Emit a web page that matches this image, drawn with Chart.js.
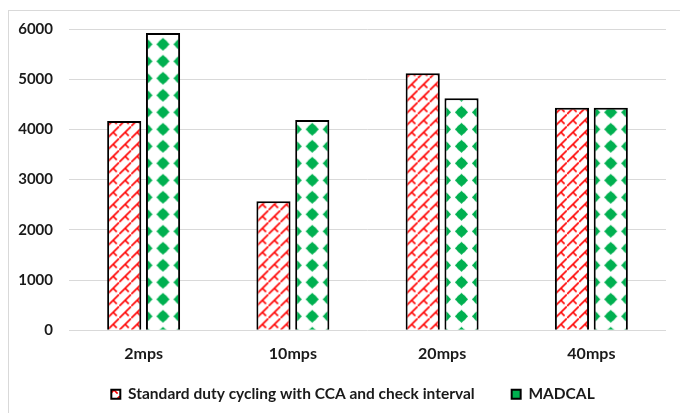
<!DOCTYPE html>
<html>
<head>
<meta charset="utf-8">
<script src="https://cdn.jsdelivr.net/npm/chart.js@4.4.0/dist/chart.umd.min.js"></script>
<style>
  html,body{margin:0;padding:0;background:#fff;width:680px;height:413px;overflow:hidden;}
  #frame{position:absolute;left:8px;top:10px;width:720px;height:440px;border:1px solid #d9d9d9;box-sizing:border-box;}
  canvas{position:absolute;left:0;top:0;}
</style>
</head>
<body>
<div id="frame"></div>
<canvas id="c" width="680" height="413"></canvas>
<script>
const categories = ['2mps', '10mps', '20mps', '40mps'];
const seriesNames = ['Standard duty cycling with CCA and check interval', 'MADCAL'];
const standardValues = [4170, 2570, 5120, 4430];
const madcalValues = [5920, 4190, 4620, 4430];
const yTicks = [0, 1000, 2000, 3000, 4000, 5000, 6000];

const CAT_PCT = 0.52;
const BAR_PCT = 0.88;
const LEGEND_SHIFT_Y = -28;
const LEGEND_SHIFT_X = 20;

function makeBrickTile() {
  const s = 12;
  const c = document.createElement('canvas');
  c.width = s; c.height = s;
  const g = c.getContext('2d');
  g.fillStyle = '#fff'; g.fillRect(0, 0, s, s);
  g.strokeStyle = '#ff0000'; g.lineWidth = 1.6;
  g.beginPath();
  g.moveTo(-1, s + 1); g.lineTo(s + 1, -1);
  g.moveTo(s/2, s/2); g.lineTo(s/2 + 3.6, s/2 + 3.6);
  g.stroke();
  return c;
}
function makeDiamondTile() {
  const s = 17;
  const c = document.createElement('canvas');
  c.width = s; c.height = s;
  const g = c.getContext('2d');
  g.fillStyle = '#fff'; g.fillRect(0, 0, s, s);
  g.fillStyle = '#00b050';
  const cx = s/2, cy = s/2, r = 6.6;
  g.beginPath();
  g.moveTo(cx, cy - r); g.lineTo(cx + r, cy); g.lineTo(cx, cy + r); g.lineTo(cx - r, cy);
  g.closePath(); g.fill();
  g.beginPath(); g.arc(cx, cy, 4.8, 0, Math.PI*2); g.fill();
  return c;
}
const brickTile = makeBrickTile();
const diamondTile = makeDiamondTile();
const ctx2d = document.getElementById('c').getContext('2d');

function patternFor(tile, dx, dy) {
  return function(ctx) {
    const chart = ctx.chart;
    const pat = ctx2d.createPattern(tile, 'repeat');
    const xs = chart.scales && chart.scales.x;
    const ys = chart.scales && chart.scales.y;
    if (!xs || !ys || !chart.chartArea || ctx.type !== 'data') return pat;
    const catW = xs.width / categories.length;
    const groupW = catW * CAT_PCT;
    const slot = groupW / 2;
    const barW = slot * BAR_PCT;
    const center = xs.getPixelForValue(ctx.dataIndex);
    const left = center - groupW/2 + ctx.datasetIndex * slot + (slot - barW)/2;
    const bottom = ys.getPixelForValue(0);
    try { pat.setTransform(new DOMMatrix().translate(left + dx, bottom + dy)); } catch(e) {}
    return pat;
  };
}

const legendShift = {
  id: 'legendShift',
  beforeDraw(chart) {
    const lg = chart.legend;
    if (lg && !lg._shifted) {
      lg.top += LEGEND_SHIFT_Y; lg.bottom += LEGEND_SHIFT_Y;
      lg.left += LEGEND_SHIFT_X; lg.right += LEGEND_SHIFT_X;
      lg._shifted = true;
    }
  }
};

const font = (size) => ({ family: 'Lato', size: size, weight: 'bold' });
const legendFills = [ctx2d.createPattern(brickTile, 'repeat'), '#00b050'];

new Chart(ctx2d, {
  type: 'bar',
  data: {
    labels: categories,
    datasets: [
      {
        label: seriesNames[0],
        data: standardValues,
        backgroundColor: patternFor(brickTile, 0, 0),
        borderColor: '#000',
        borderWidth: 2,
        categoryPercentage: CAT_PCT,
        barPercentage: BAR_PCT
      },
      {
        label: seriesNames[1],
        data: madcalValues,
        backgroundColor: patternFor(diamondTile, -8.5, -22.5),
        borderColor: '#000',
        borderWidth: 2,
        categoryPercentage: CAT_PCT,
        barPercentage: BAR_PCT
      }
    ]
  },
  plugins: [legendShift],
  options: {
    responsive: false,
    animation: false,
    events: [],
    layout: { padding: { top: 29, right: 14, bottom: -27, left: 0 } },
    scales: {
      x: {
        grid: { display: false, drawTicks: false },
        border: { display: false },
        ticks: { color: '#1a1a1a', font: font(16), padding: 14 }
      },
      y: {
        min: 0, max: 6000,
        afterBuildTicks: (s) => { s.ticks = yTicks.map(v => ({ value: v })); },
        afterFit: (s) => { s.width = 69; },
        grid: { color: '#d9d9d9', lineWidth: 1, drawTicks: false },
        border: { display: false },
        ticks: { color: '#1a1a1a', font: font(15), padding: 16, callback: (v) => String(v) }
      }
    },
    plugins: {
      legend: {
        position: 'bottom',
        labels: {
          color: '#1a1a1a',
          font: font(15.5),
          boxWidth: 9,
          boxHeight: 9,
          padding: 37,
          generateLabels: (chart) => {
            const items = Chart.defaults.plugins.legend.labels.generateLabels(chart);
            items.forEach((it, i) => { it.fillStyle = legendFills[i]; it.lineWidth = 2; it.strokeStyle = '#000'; });
            return items;
          }
        }
      },
      tooltip: { enabled: false }
    }
  }
});
</script>
</body>
</html>
